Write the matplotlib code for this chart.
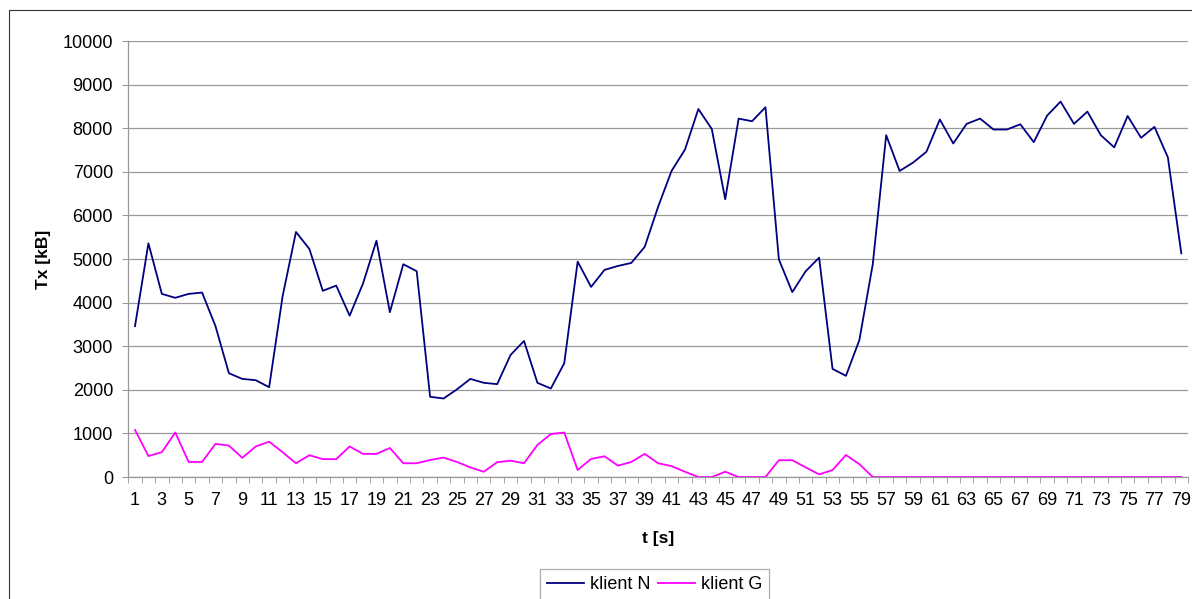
import matplotlib.pyplot as plt
from matplotlib.patches import Rectangle

plt.rcParams['font.family'] = ['Liberation Sans', 'DejaVu Sans']

t = list(range(1, 80))

klient_n = [
    3460, 5360, 4200, 4110, 4200, 4230, 3460, 2380, 2250, 2220,
    2060, 4140, 5620, 5230, 4270, 4390, 3700, 4440, 5420, 3780,
    4880, 4720, 1840, 1800, 2010, 2250, 2160, 2130, 2800, 3120,
    2160, 2030, 2610, 4940, 4360, 4750, 4840, 4910, 5280, 6200,
    7020, 7510, 8440, 7980, 6370, 8220, 8160, 8480, 4990, 4240,
    4720, 5030, 2480, 2320, 3140, 4880, 7840, 7020, 7210, 7460,
    8200, 7650, 8100, 8220, 7970, 7970, 8090, 7680, 8290, 8610,
    8100, 8380, 7840, 7560, 8280, 7780, 8030, 7330, 5130,
]

klient_g = [
    1080, 480, 570, 1020, 345, 345, 760, 720, 440, 700,
    810, 570, 315, 500, 410, 410, 700, 530, 530, 665,
    315, 315, 390, 445, 345, 220, 120, 340, 375, 315,
    735, 985, 1020, 160, 415, 475, 260, 345, 530, 315,
    250, 120, 0, 0, 120, 0, 0, 0, 385, 385,
    220, 60, 160, 505, 295, 0, 0, 0, 0, 0,
    0, 0, 0, 0, 0, 0, 0, 0, 0, 0,
    0, 0, 0, 0, 0, 0, 0, 0, 0,
]

y_ticks = list(range(0, 10001, 1000))

W, H = 1192, 599
fs = 13
fig = plt.figure(figsize=(W / 100, H / 100), dpi=100)
ax = fig.add_axes([128.3 / W, (H - 477) / H, (1188 - 128.3) / W, 436 / H])

ax.plot(t, klient_n, color='#000080', lw=1.3, label='klient N')
ax.plot(t, klient_g, color='#FF00FF', lw=1.3, label='klient G')

ax.set_xlim(0.5, 79.5)
ax.set_ylim(0, 10000)
ax.set_yticks(y_ticks)
ax.set_yticklabels([str(v) for v in y_ticks], fontsize=fs)
ax.yaxis.grid(True, color='#999999', lw=0.9)
ax.set_axisbelow(True)

# labels on odd seconds, tick marks between categories
ax.set_xticks(t[::2])
ax.set_xticklabels([str(v) for v in t[::2]], fontsize=fs)
ax.tick_params(axis='x', length=0, pad=11)
ax.set_xticks([v + 0.5 for v in range(0, 80)], minor=True)
ax.tick_params(axis='x', which='minor', length=4.5, color='#999999', direction='out')
ax.tick_params(axis='y', length=4.5, color='#999999', pad=6.5)

for s in ['top', 'right']:
    ax.spines[s].set_visible(False)
for s in ['left', 'bottom']:
    ax.spines[s].set_color('#999999')
    ax.spines[s].set_linewidth(0.9)

fig.text(43 / W, 1 - 259 / H, 'Tx [kB]', rotation=90, ha='center', va='center',
         fontsize=12.5, fontweight='bold')
fig.text(658 / W, 1 - 538 / H, 't [s]', ha='center', va='center',
         fontsize=12.5, fontweight='bold')

leg = fig.legend(loc='upper left', bbox_to_anchor=(540 / W, 1 - 569 / H),
                 ncol=2, fontsize=fs, frameon=True, fancybox=False,
                 edgecolor='#999999', handlelength=2.05, columnspacing=0.45,
                 handletextpad=0.3, borderpad=0.4, borderaxespad=0)
leg.get_frame().set_linewidth(0.9)

fig.patches.append(Rectangle((9 / W, -0.1), 1.2, (H - 10) / H + 0.1,
                             transform=fig.transFigure, fill=False,
                             edgecolor='#333333', lw=0.8))

fig.savefig('out.png', dpi=100)
